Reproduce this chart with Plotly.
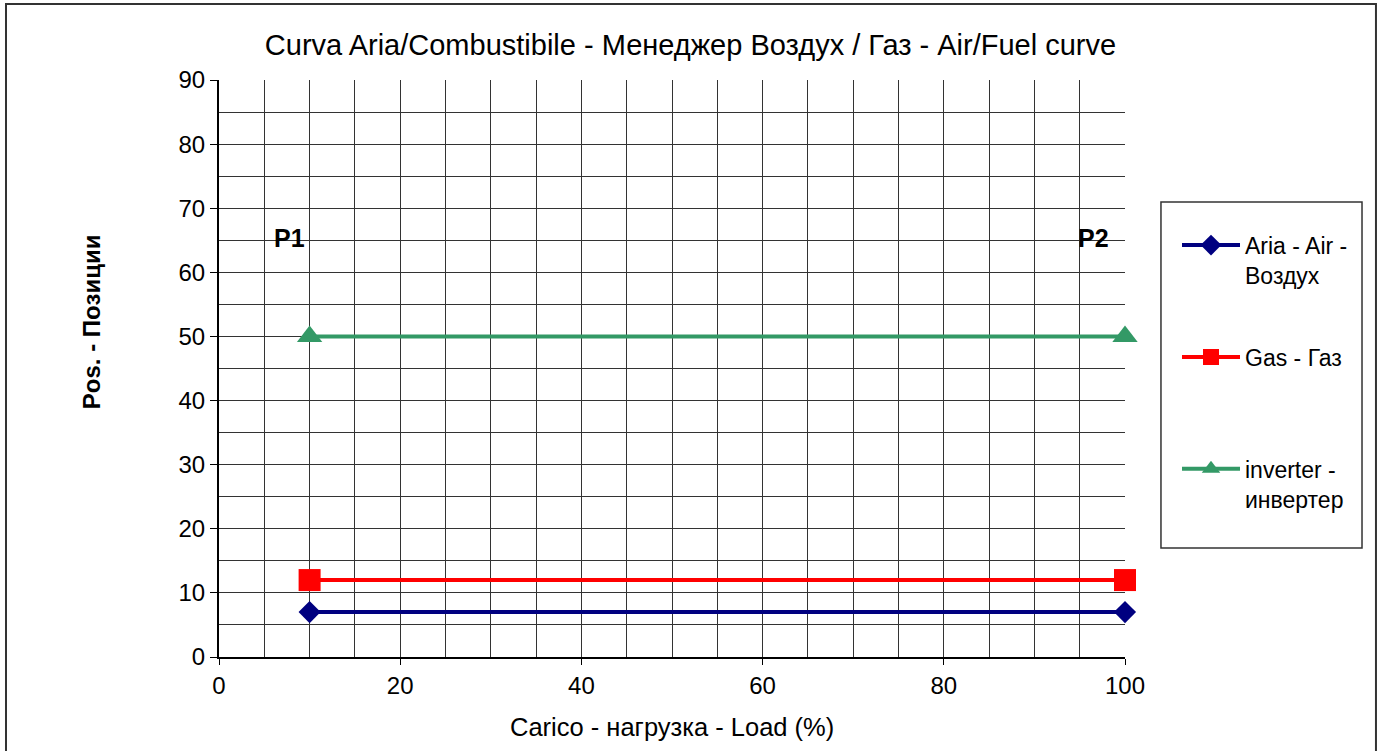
import plotly.graph_objects as go

load = [10, 100]
air = [7, 7]
gas = [12, 12]
inverter = [50, 50]

series_names = ["Aria - Air -<br>Воздух", "Gas - Газ<br> ", "inverter -<br>инвертер"]
series_colors = ["#000080", "#FF0000", "#339966"]
series_symbols = ["diamond", "square", "triangle-up"]
series_sizes = [17, 22, 22]

point_labels = ["P1", "P2"]
point_label_x = [7.8, 96.5]
point_label_y = [65.4, 65.4]

FONT = "Liberation Sans, Arial, sans-serif"

fig = go.Figure()
for name, ys, color, sym, size in zip(series_names, [air, gas, inverter], series_colors, series_symbols, series_sizes):
    fig.add_trace(go.Scatter(
        x=load, y=ys, mode="lines+markers", name=name, legendgroup=name,
        line=dict(color=color, width=4),
        marker=dict(symbol=sym, size=size, color=color),
        cliponaxis=False,
    ))

for txt, px_, py_ in zip(point_labels, point_label_x, point_label_y):
    fig.add_annotation(x=px_, y=py_, text=f"<b>{txt}</b>", showarrow=False,
                       font=dict(family=FONT, size=25, color="black"))

# axis titles
fig.add_annotation(xref="paper", yref="paper", x=0.5, y=-0.121, xanchor="center", yanchor="middle",
                   text="Carico - нагрузка - Load (%)",
                   showarrow=False, font=dict(family=FONT, size=25.5, color="black"))
fig.add_annotation(xref="paper", yref="paper", x=-0.140, y=0.5806, xanchor="center", yanchor="middle",
                   text="<b>Pos. - Позиции</b>",
                   textangle=-90, showarrow=False, font=dict(family=FONT, size=24, color="black"))

# outer chart border and legend box
fig.add_shape(type="rect", xref="paper", yref="paper", x0=-0.2351, x1=1.2770, y0=-0.3, y1=1.1317,
              line=dict(color="#333333", width=2), layer="below")
fig.add_shape(type="rect", xref="paper", yref="paper", x0=1.0397, x1=1.2616, y0=0.1889, y1=0.7886,
              line=dict(color="#333333", width=1.5), layer="below")

fig.update_layout(
    width=1381, height=751,
    margin=dict(l=219, r=256, t=80, b=94),
    paper_bgcolor="white", plot_bgcolor="white",
    font=dict(family=FONT, size=24, color="black"),
    title=dict(text="Curva Aria/Combustibile - Менеджер Воздух / Газ - Air/Fuel curve",
               x=0.5, xanchor="center", y=0.94, yanchor="middle",
               font=dict(family=FONT, size=29, color="black")),
    showlegend=True,
    legend=dict(x=1.0574, xanchor="left", y=0.751, yanchor="top",
                font=dict(family=FONT, size=23, color="black"),
                bgcolor="rgba(0,0,0,0)", valign="top", tracegroupgap=49, itemwidth=58),
)

fig.update_xaxes(range=[0, 100], dtick=20, tick0=0, showgrid=True, gridcolor="#333333", gridwidth=1,
                 minor=dict(dtick=5, showgrid=True, gridcolor="#333333", gridwidth=1),
                 showline=True, linecolor="black", linewidth=2,
                 ticks="outside", ticklen=6, tickcolor="black", zeroline=False,
                 tickfont=dict(size=24))
fig.update_yaxes(range=[0, 90], dtick=10, tick0=0, showgrid=True, gridcolor="#333333", gridwidth=1,
                 minor=dict(dtick=5, showgrid=True, gridcolor="#333333", gridwidth=1),
                 showline=True, linecolor="black", linewidth=2,
                 ticks="outside", ticklen=7, tickcolor="black", zeroline=False,
                 tickfont=dict(size=24))

# page body has a default 8px margin; remove it so the figure fills the window exactly
fig.write_html("out.html", config={"displayModeBar": False},
               post_script="document.body.style.margin='0';")
